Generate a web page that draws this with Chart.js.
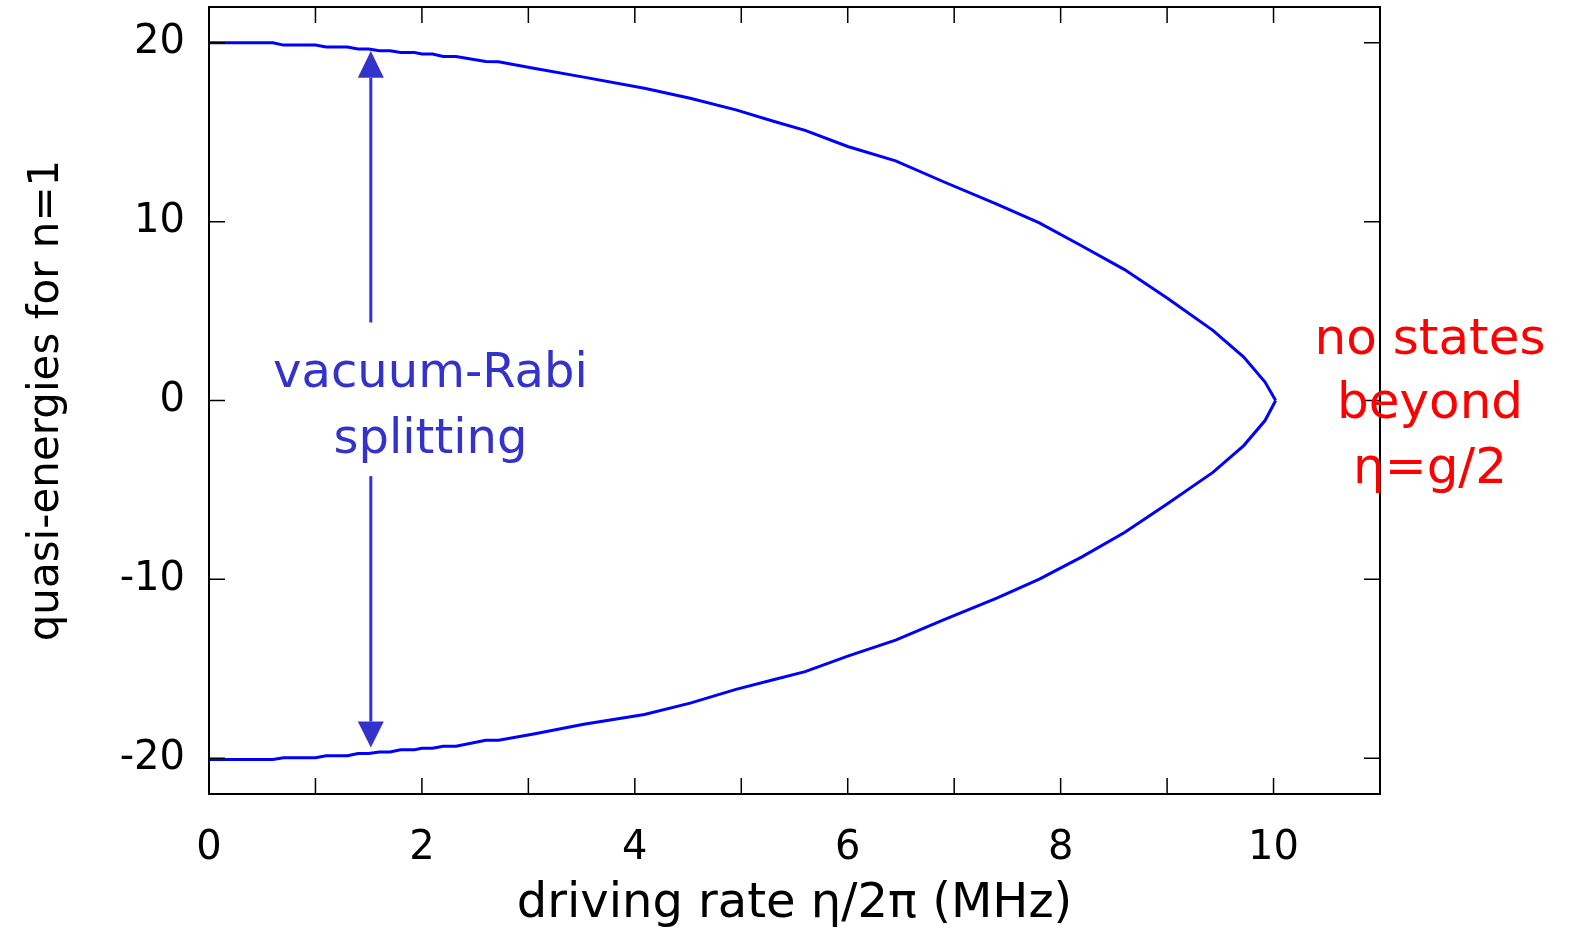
<!DOCTYPE html>
<html>
<head>
<meta charset="utf-8">
<script src="https://cdn.jsdelivr.net/npm/chart.js@4.4.0/dist/chart.umd.min.js"></script>
<style>
    html, body { margin: 0; padding: 0; background: #fff; }
    #wrap { width: 1570px; height: 933px; }
</style>
</head>
<body>
<div id="wrap"><canvas id="quasiChart" width="1570" height="933"></canvas></div>
<script>
// driving rate eta/2pi (MHz) and the two quasi-energy branches for n=1
const eta = [0, 0.6, 0.7, 1.0, 1.1, 1.3, 1.4, 1.5, 1.6, 1.7, 1.8, 1.93, 2.0, 2.1, 2.2, 2.32,
    2.6, 2.72, 3.05, 3.52, 4.09, 4.52, 4.95, 5.31, 5.6, 6.0, 6.45, 6.9, 7.4, 7.8, 8.2, 8.6,
    9.0, 9.43, 9.72, 9.92, 10.02];
const upperBranch = [20.0, 20.0, 19.87, 19.87, 19.76, 19.76, 19.65, 19.65, 19.55, 19.55, 19.46, 19.46,
    19.37, 19.37, 19.23, 19.23, 18.95, 18.94, 18.58, 18.08, 17.46, 16.9, 16.25, 15.6, 15.1, 14.2,
    13.4, 12.23, 10.98, 9.93, 8.64, 7.32, 5.73, 3.92, 2.43, 1.03, 0];
const lowerBranch = [-20.07, -20.07, -19.97, -19.97, -19.86, -19.86, -19.74, -19.74, -19.65, -19.65, -19.53, -19.53,
    -19.44, -19.44, -19.33, -19.33, -19.0, -19.0, -18.64, -18.1, -17.55, -16.92, -16.15, -15.6, -15.16, -14.29,
    -13.4, -12.27, -11.05, -9.99, -8.74, -7.38, -5.79, -4.02, -2.52, -1.12, 0];

// tick marks and the ones that carry a label
const xTickValues = [0, 1, 2, 3, 4, 5, 6, 7, 8, 9, 10, 11];
const xTickLabels = [0, 2, 4, 6, 8, 10];
const yTickValues = [-20, -10, 0, 10, 20];

const FONT = '"DejaVu Sans", "Noto Sans", sans-serif';

const toPoints = (xs, ys) => xs.map((v, i) => ({ x: v, y: ys[i] }));

// box frame with inward ticks on all four sides
const frameTicks = {
    id: 'frameTicks',
    afterDatasetsDraw(chart) {
        const { ctx, chartArea: a, scales: { x, y } } = chart;
        const len = 16;
        ctx.save();
        ctx.strokeStyle = '#000';
        ctx.lineWidth = 1.5;
        ctx.beginPath();
        xTickValues.forEach(v => {
            const px = x.getPixelForValue(v);
            ctx.moveTo(px, a.bottom); ctx.lineTo(px, a.bottom - len);
            ctx.moveTo(px, a.top); ctx.lineTo(px, a.top + len);
        });
        yTickValues.forEach(v => {
            const py = y.getPixelForValue(v);
            ctx.moveTo(a.left, py); ctx.lineTo(a.left + len, py);
            ctx.moveTo(a.right, py); ctx.lineTo(a.right - len, py);
        });
        ctx.stroke();
        ctx.lineWidth = 2;
        ctx.strokeRect(a.left, a.top, a.right - a.left, a.bottom - a.top);
        ctx.restore();
    }
};

// splitting arrows and the two text notes
const notes = {
    id: 'notes',
    afterDraw(chart) {
        const { ctx, scales: { x, y } } = chart;
        const blue = '#3333cc';

        function arrow(xv, fromY, baseY, tipY) {
            const px = x.getPixelForValue(xv);
            const y0 = y.getPixelForValue(fromY);
            const yb = y.getPixelForValue(baseY);
            const yt = y.getPixelForValue(tipY);
            ctx.strokeStyle = blue;
            ctx.fillStyle = blue;
            ctx.lineWidth = 3;
            ctx.beginPath();
            ctx.moveTo(px, y0);
            ctx.lineTo(px, yb);
            ctx.stroke();
            ctx.beginPath();
            ctx.moveTo(px, yt);
            ctx.lineTo(px - 13, yb);
            ctx.lineTo(px + 13, yb);
            ctx.closePath();
            ctx.fill();
        }

        ctx.save();
        arrow(1.52, 4.36, 18.05, 19.54);
        arrow(1.52, -4.23, -17.95, -19.4);

        ctx.textAlign = 'center';
        ctx.textBaseline = 'alphabetic';
        ctx.fillStyle = blue;
        ctx.font = '48px ' + FONT;
        ctx.fillText('vacuum-Rabi', x.getPixelForValue(2.08), y.getPixelForValue(0.77));
        ctx.fillText('splitting', x.getPixelForValue(2.08), y.getPixelForValue(-2.92));

        ctx.fillStyle = '#ff0000';
        ctx.font = '50px ' + FONT;
        const cx = x.getPixelForValue(11.47);
        ctx.fillText('no states', cx, y.getPixelForValue(2.6));
        ctx.fillText('beyond', cx, y.getPixelForValue(-1.0));
        ctx.fillText('η=g/2', cx, y.getPixelForValue(-4.6));
        ctx.restore();
    }
};

new Chart(document.getElementById('quasiChart'), {
    type: 'scatter',
    data: {
        datasets: [{
            label: 'upper',
            data: toPoints(eta, upperBranch),
            showLine: true,
            borderColor: '#0000ff',
            borderWidth: 3,
            pointRadius: 0,
            tension: 0
        }, {
            label: 'lower',
            data: toPoints(eta, lowerBranch),
            showLine: true,
            borderColor: '#0000ff',
            borderWidth: 3,
            pointRadius: 0,
            tension: 0
        }]
    },
    options: {
        responsive: false,
        animation: false,
        devicePixelRatio: 1,
        layout: { padding: { top: 7, right: 190, left: 0, bottom: 0 } },
        plugins: {
            legend: { display: false },
            tooltip: { enabled: false }
        },
        scales: {
            x: {
                type: 'linear',
                min: 0,
                max: 11,
                afterBuildTicks: s => { s.ticks = xTickValues.map(v => ({ value: v })); },
                afterFit: s => { s.height = 139; s.paddingLeft = 0; s.paddingRight = 0; },
                grid: { display: false, drawTicks: false },
                border: { display: false },
                ticks: {
                    autoSkip: false,
                    maxRotation: 0,
                    padding: 31,
                    color: '#000',
                    font: { family: FONT, size: 40 },
                    callback: v => xTickLabels.includes(v) ? String(v) : ''
                },
                title: {
                    display: true,
                    text: 'driving rate η/2π (MHz)',
                    color: '#000',
                    font: { family: FONT, size: 48 },
                    padding: { top: 0, bottom: 0 }
                }
            },
            y: {
                type: 'linear',
                min: -22,
                max: 22,
                afterBuildTicks: s => { s.ticks = yTickValues.map(v => ({ value: v })); },
                afterFit: s => { s.width = 209; s.paddingTop = 0; s.paddingBottom = 0; },
                grid: { display: false, drawTicks: false },
                border: { display: false },
                ticks: {
                    padding: 24,
                    color: '#000',
                    font: { family: FONT, size: 40 },
                    callback: v => String(v)
                },
                title: {
                    display: true,
                    text: 'quasi-energies for n=1',
                    color: '#000',
                    font: { family: FONT, size: 42 },
                    padding: { top: 22, bottom: 0 }
                }
            }
        }
    },
    plugins: [frameTicks, notes]
});
</script>
</body>
</html>
